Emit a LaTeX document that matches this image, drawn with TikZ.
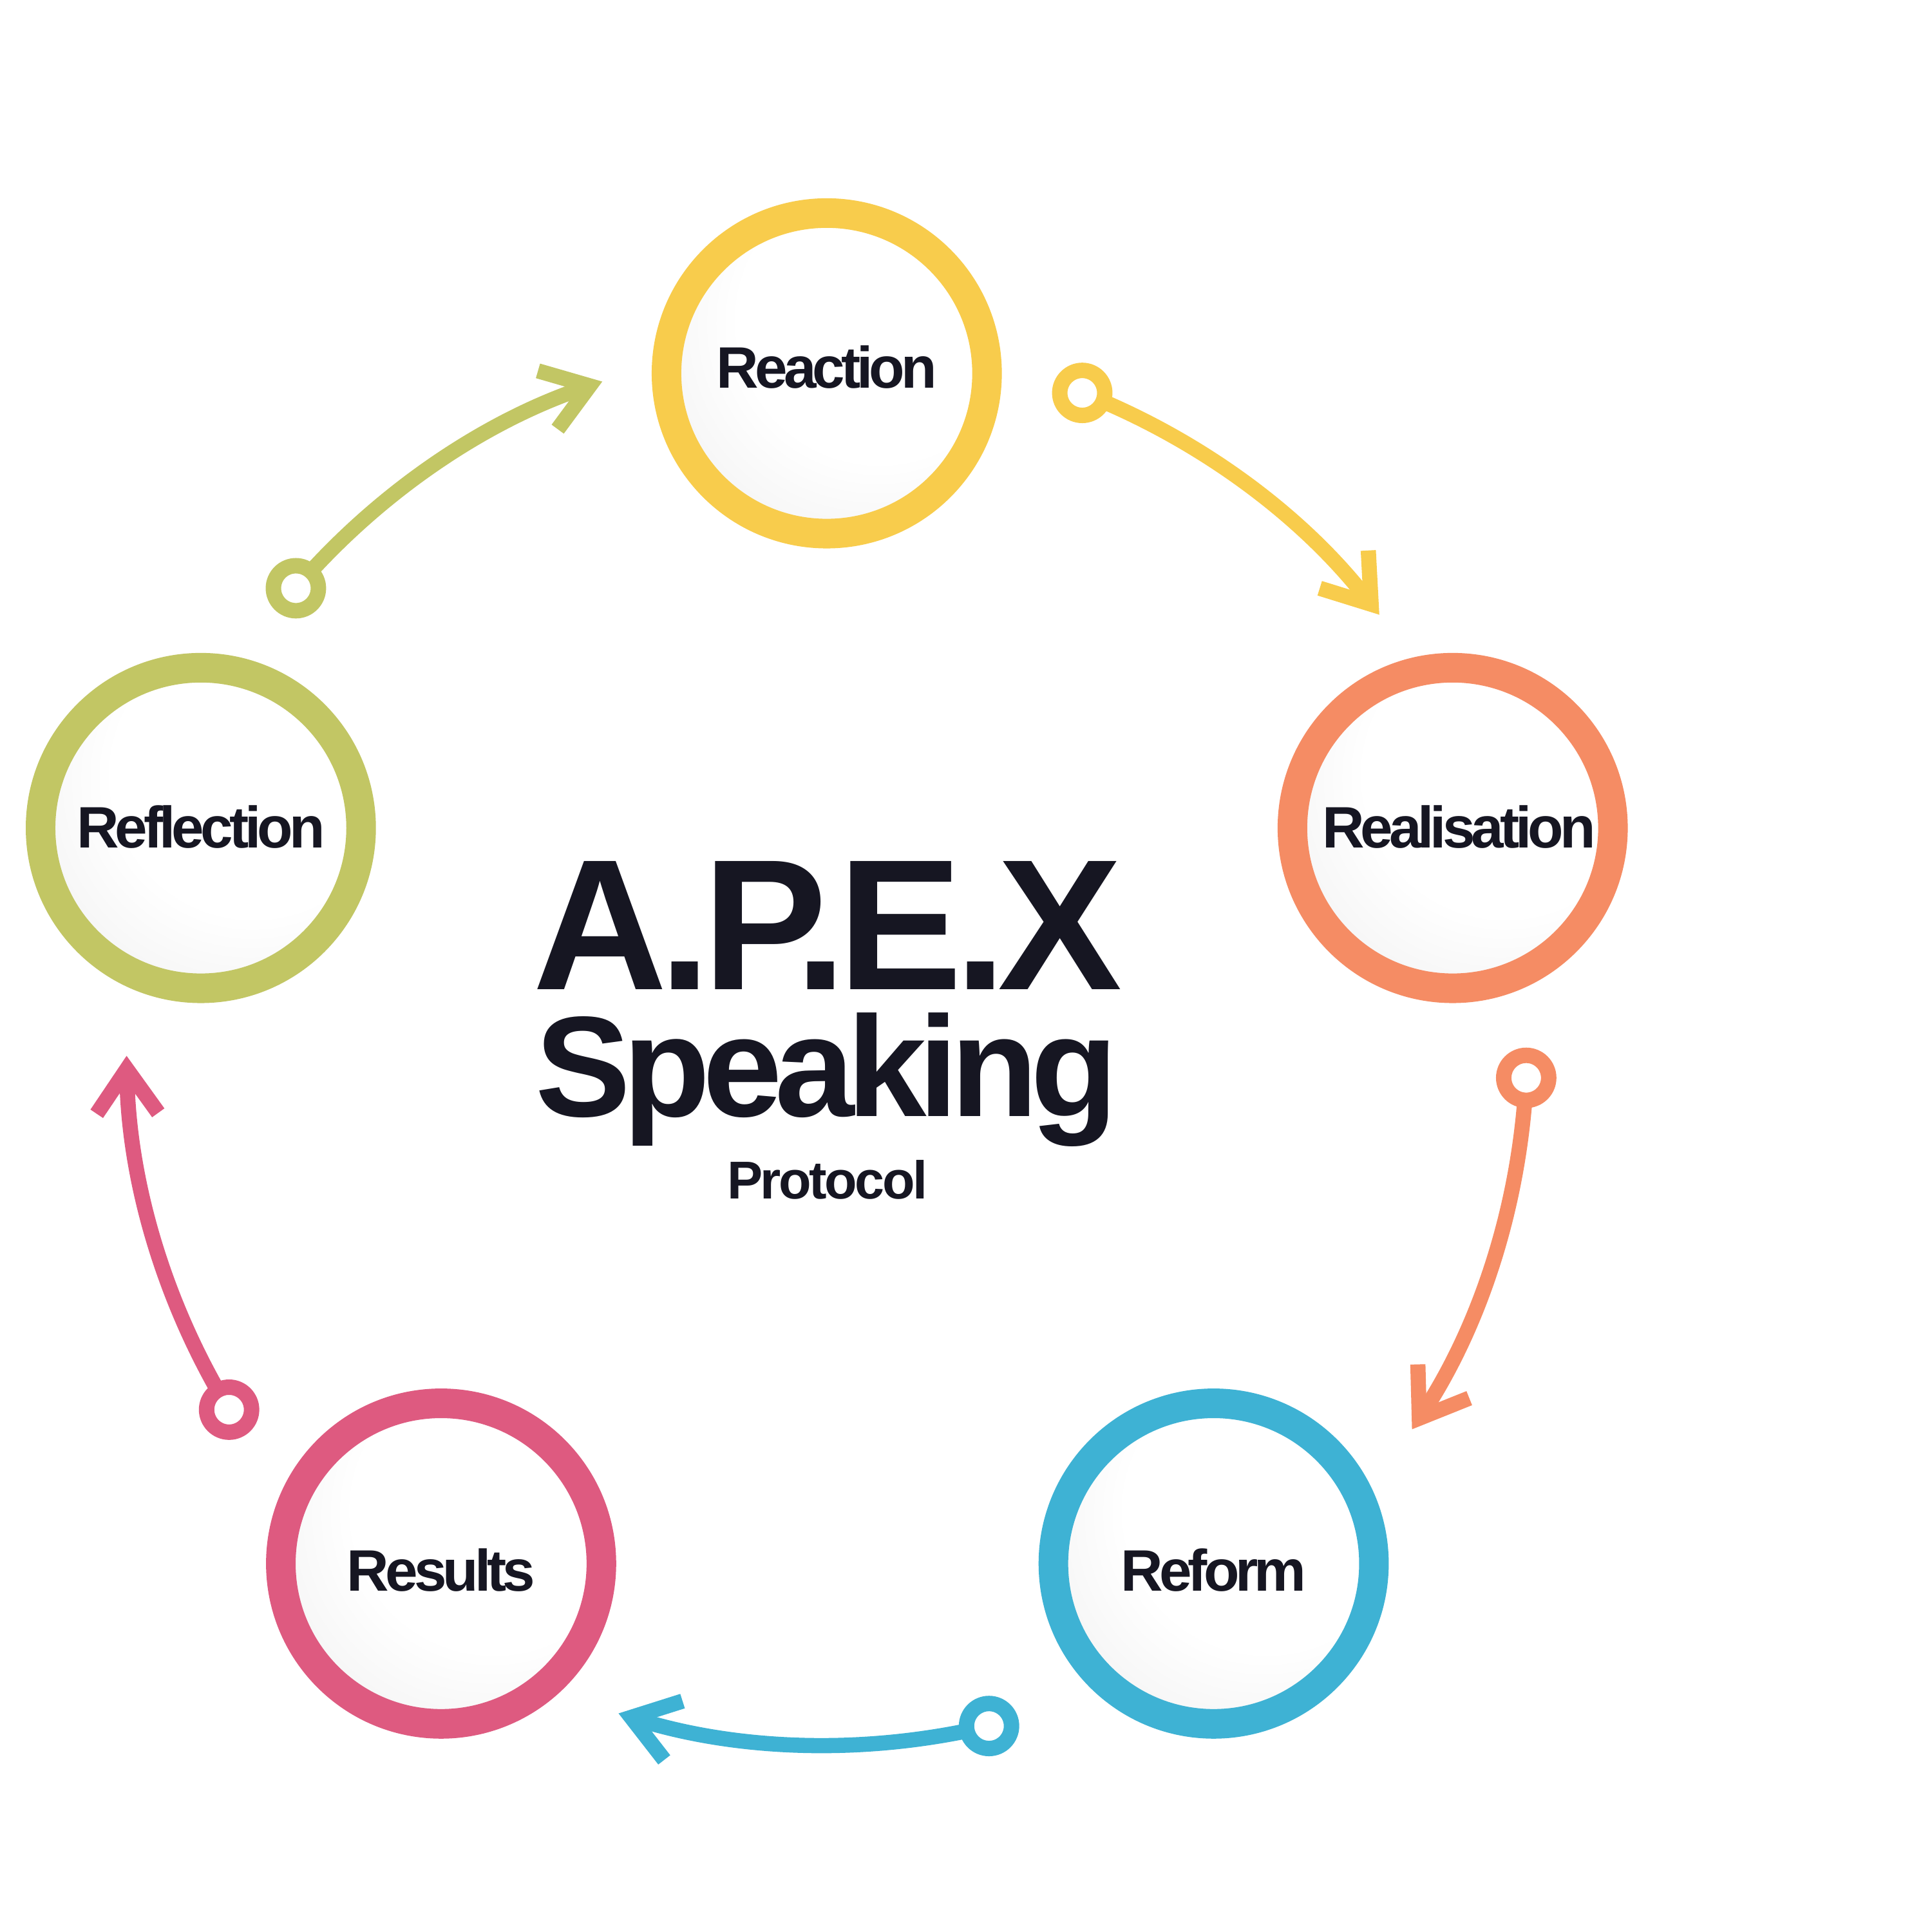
\documentclass[tikz,border=0pt]{standalone}
\usepackage{fontspec}
\setmainfont{Liberation Sans}
\newfontfamily\fa{Liberation Sans}[LetterSpace=-4.4]
\newfontfamily\fb{Liberation Sans}[LetterSpace=-5.3]
\newfontfamily\fc{Liberation Sans}[LetterSpace=-4.2]
\newfontfamily\fl{Liberation Sans}[LetterSpace=-6.6]
\usetikzlibrary{arrows.meta,calc}
\definecolor{cyel}{RGB}{248,204,76}
\definecolor{cora}{RGB}{245,140,100}
\definecolor{cblu}{RGB}{62,178,212}
\definecolor{cpnk}{RGB}{222,90,128}
\definecolor{cgrn}{RGB}{194,198,100}
\definecolor{ctext}{RGB}{22,22,34}
\pgfdeclareradialshading{ballshade}{\pgfpoint{12bp}{12bp}}{color(0bp)=(white); color(22bp)=(white); color(44bp)=(black!7); color(62bp)=(black!12); color(72bp)=(black!13)}
\pgfdeclarelayer{back}
\pgfdeclarelayer{bg}
\pgfsetlayers{back,bg,main}
\tikzset{
  ball/.style={circle, minimum size=2.6cm, inner sep=0pt, line width=6.83pt, shading=ballshade,
    font=\fl\bfseries\fontsize{13.5pt}{15pt}\selectfont, text=ctext, text depth=0pt},
  knob/.style={circle, minimum size=0.365cm, inner sep=0pt, line width=3.56pt, fill=white},
  link/.style={line width=3.5pt, -{Straight Barb[sharp, length=10.2pt, width=14.2pt]}},
  ttl/.style={anchor=base, text=ctext, inner sep=0pt}
}
\begin{document}
\begin{tikzpicture}[x=0.01cm, y=0.01cm]
\useasboundingbox (0,0) rectangle (1568,1568);
\begin{pgfonlayer}{back}
\fill[white] (0,0) rectangle (1568,1568);
\end{pgfonlayer}
\coordinate (C) at (671,720);
% main circles
\node[ball, draw=cyel, text height=0.24cm] (reaction) at (671,1265) {Reaction};
\node[ball, draw=cora, text height=0.32cm] (realisation) at (1179,896) {\hspace{0.1cm}Realisation};
\node[ball, draw=cblu, text height=0.44cm] (reform) at (985,299) {Reform};
\node[ball, draw=cpnk, text height=0.44cm] (results) at (358,299) {Results};
\node[ball, draw=cgrn, text height=0.32cm] (reflection) at (163,896) {Reflection\hspace{0.03cm}};
% title
\node[ttl, font=\fa\bfseries\fontsize{43pt}{47pt}\selectfont] (apex) at (671.5,765) {A.P.E.X};
\node[ttl, font=\fb\bfseries\fontsize{33pt}{37pt}\selectfont] (speaking) at (671,662) {Speaking};
\node[ttl, font=\fc\bfseries\fontsize{12.3pt}{14pt}\selectfont] (protocol) at (671.5,595) {Protocol};
% knobs
\node[knob, draw=cyel] (k1) at ($(C)+(68.6:5.68cm)$) {};
\node[knob, draw=cora] (k2) at ($(C)+(-2.7:5.68cm)$) {};
\node[knob, draw=cblu] (k3) at ($(C)+(-76.6:5.68cm)$) {};
\node[knob, draw=cpnk] (k4) at ($(C)+(-148.6:5.68cm)$) {};
\node[knob, draw=cgrn] (k5) at ($(C)+(139.3:5.68cm)$) {};
\begin{pgfonlayer}{bg}
\draw[link, cyel] (k1.center) arc[start angle=68.6, end angle=37.9, radius=5.68cm] coordinate (t1);
\draw[link, cora] (k2.center) arc[start angle=-2.7, end angle=-33.3, radius=5.68cm] coordinate (t2);
\draw[link, cblu] (k3.center) arc[start angle=-76.6, end angle=-107.3, radius=5.68cm] coordinate (t3);
\draw[link, cpnk] (k4.center) arc[start angle=-148.6, end angle=-179.1, radius=5.68cm] coordinate (t4);
\draw[link, cgrn] (k5.center) arc[start angle=139.3, end angle=108.7, radius=5.68cm] coordinate (t5);
\end{pgfonlayer}
\end{tikzpicture}
\end{document}
